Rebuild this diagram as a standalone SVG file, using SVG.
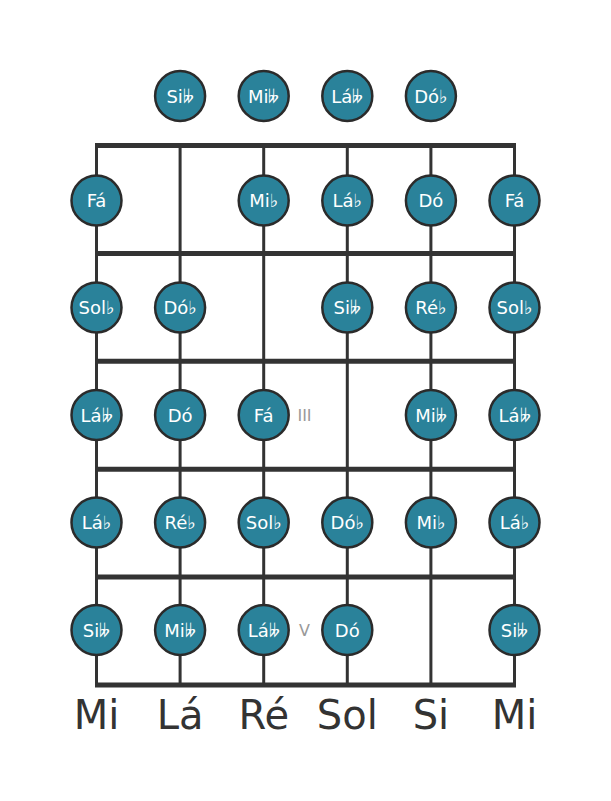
<svg xmlns="http://www.w3.org/2000/svg" width="611" height="801" viewBox="0 0 611 801">
<style>
.fret{stroke:#333;stroke-width:5;fill:none}
.str{stroke:#333;stroke-width:3;fill:none}
.note circle{fill:#2a829a;stroke:#2b2b2b;stroke-width:2.5}
.note text{fill:#fff;font-family:"DejaVu Sans",sans-serif;font-size:18px;text-anchor:middle}
.roman{fill:#999;font-family:"DejaVu Sans",sans-serif;font-size:16px;text-anchor:middle}
.sname{fill:#333;font-family:"DejaVu Sans",sans-serif;font-size:40px;text-anchor:middle}
</style>
<rect width="611" height="801" fill="#fff"/>
<g id="connectors">
<line class="str" x1="96.5" y1="145.5" x2="96.5" y2="685"/>
<line class="str" x1="180.1" y1="145.5" x2="180.1" y2="685"/>
<line class="str" x1="263.7" y1="145.5" x2="263.7" y2="685"/>
<line class="str" x1="347.3" y1="145.5" x2="347.3" y2="685"/>
<line class="str" x1="430.9" y1="145.5" x2="430.9" y2="685"/>
<line class="str" x1="514.5" y1="145.5" x2="514.5" y2="685"/>
<line class="fret" x1="95" y1="145.5" x2="516" y2="145.5"/>
<line class="fret" x1="95" y1="253.4" x2="516" y2="253.4"/>
<line class="fret" x1="95" y1="361.3" x2="516" y2="361.3"/>
<line class="fret" x1="95" y1="469.2" x2="516" y2="469.2"/>
<line class="fret" x1="95" y1="577.1" x2="516" y2="577.1"/>
<line class="fret" x1="95" y1="685" x2="516" y2="685"/>
</g>
<g id="row0">
<g id="n0_1" class="note"><circle cx="180.1" cy="96" r="25"/><text x="180.1" y="102.5">Si&#x1D12B;</text></g>
<g id="n0_2" class="note"><circle cx="263.7" cy="96" r="25"/><text x="263.7" y="102.5">Mi&#x1D12B;</text></g>
<g id="n0_3" class="note"><circle cx="347.3" cy="96" r="25"/><text x="347.3" y="102.5">Lá&#x1D12B;</text></g>
<g id="n0_4" class="note"><circle cx="430.9" cy="96" r="25"/><text x="430.9" y="102.5">Dó♭</text></g>
</g>
<g id="row1">
<g id="n1_0" class="note"><circle cx="96.5" cy="200.5" r="25"/><text x="96.5" y="207">Fá</text></g>
<g id="n1_2" class="note"><circle cx="263.7" cy="200.5" r="25"/><text x="263.7" y="207">Mi♭</text></g>
<g id="n1_3" class="note"><circle cx="347.3" cy="200.5" r="25"/><text x="347.3" y="207">Lá♭</text></g>
<g id="n1_4" class="note"><circle cx="430.9" cy="200.5" r="25"/><text x="430.9" y="207">Dó</text></g>
<g id="n1_5" class="note"><circle cx="514.5" cy="200.5" r="25"/><text x="514.5" y="207">Fá</text></g>
</g>
<g id="row2">
<g id="n2_0" class="note"><circle cx="96.5" cy="307.5" r="25"/><text x="96.5" y="314">Sol♭</text></g>
<g id="n2_1" class="note"><circle cx="180.1" cy="307.5" r="25"/><text x="180.1" y="314">Dó♭</text></g>
<g id="n2_3" class="note"><circle cx="347.3" cy="307.5" r="25"/><text x="347.3" y="314">Si&#x1D12B;</text></g>
<g id="n2_4" class="note"><circle cx="430.9" cy="307.5" r="25"/><text x="430.9" y="314">Ré♭</text></g>
<g id="n2_5" class="note"><circle cx="514.5" cy="307.5" r="25"/><text x="514.5" y="314">Sol♭</text></g>
</g>
<g id="row3">
<g id="n3_0" class="note"><circle cx="96.5" cy="415" r="25"/><text x="96.5" y="421.5">Lá&#x1D12B;</text></g>
<g id="n3_1" class="note"><circle cx="180.1" cy="415" r="25"/><text x="180.1" y="421.5">Dó</text></g>
<g id="n3_2" class="note"><circle cx="263.7" cy="415" r="25"/><text x="263.7" y="421.5">Fá</text></g>
<text id="fretIII" class="roman" x="304.5" y="421">III</text>
<g id="n3_4" class="note"><circle cx="430.9" cy="415" r="25"/><text x="430.9" y="421.5">Mi&#x1D12B;</text></g>
<g id="n3_5" class="note"><circle cx="514.5" cy="415" r="25"/><text x="514.5" y="421.5">Lá&#x1D12B;</text></g>
</g>
<g id="row4">
<g id="n4_0" class="note"><circle cx="96.5" cy="522.5" r="25"/><text x="96.5" y="529">Lá♭</text></g>
<g id="n4_1" class="note"><circle cx="180.1" cy="522.5" r="25"/><text x="180.1" y="529">Ré♭</text></g>
<g id="n4_2" class="note"><circle cx="263.7" cy="522.5" r="25"/><text x="263.7" y="529">Sol♭</text></g>
<g id="n4_3" class="note"><circle cx="347.3" cy="522.5" r="25"/><text x="347.3" y="529">Dó♭</text></g>
<g id="n4_4" class="note"><circle cx="430.9" cy="522.5" r="25"/><text x="430.9" y="529">Mi♭</text></g>
<g id="n4_5" class="note"><circle cx="514.5" cy="522.5" r="25"/><text x="514.5" y="529">Lá♭</text></g>
</g>
<g id="row5">
<g id="n5_0" class="note"><circle cx="96.5" cy="630" r="25"/><text x="96.5" y="636.5">Si&#x1D12B;</text></g>
<g id="n5_1" class="note"><circle cx="180.1" cy="630" r="25"/><text x="180.1" y="636.5">Mi&#x1D12B;</text></g>
<g id="n5_2" class="note"><circle cx="263.7" cy="630" r="25"/><text x="263.7" y="636.5">Lá&#x1D12B;</text></g>
<text id="fretV" class="roman" x="304.5" y="636">V</text>
<g id="n5_3" class="note"><circle cx="347.3" cy="630" r="25"/><text x="347.3" y="636.5">Dó</text></g>
<g id="n5_5" class="note"><circle cx="514.5" cy="630" r="25"/><text x="514.5" y="636.5">Si&#x1D12B;</text></g>
</g>
<g id="strings">
<text class="sname" x="96.5" y="729">Mi</text>
<text class="sname" x="180.1" y="729">Lá</text>
<text class="sname" x="263.7" y="729">Ré</text>
<text class="sname" x="347.3" y="729">Sol</text>
<text class="sname" x="430.9" y="729">Si</text>
<text class="sname" x="514.5" y="729">Mi</text>
</g>
</svg>
